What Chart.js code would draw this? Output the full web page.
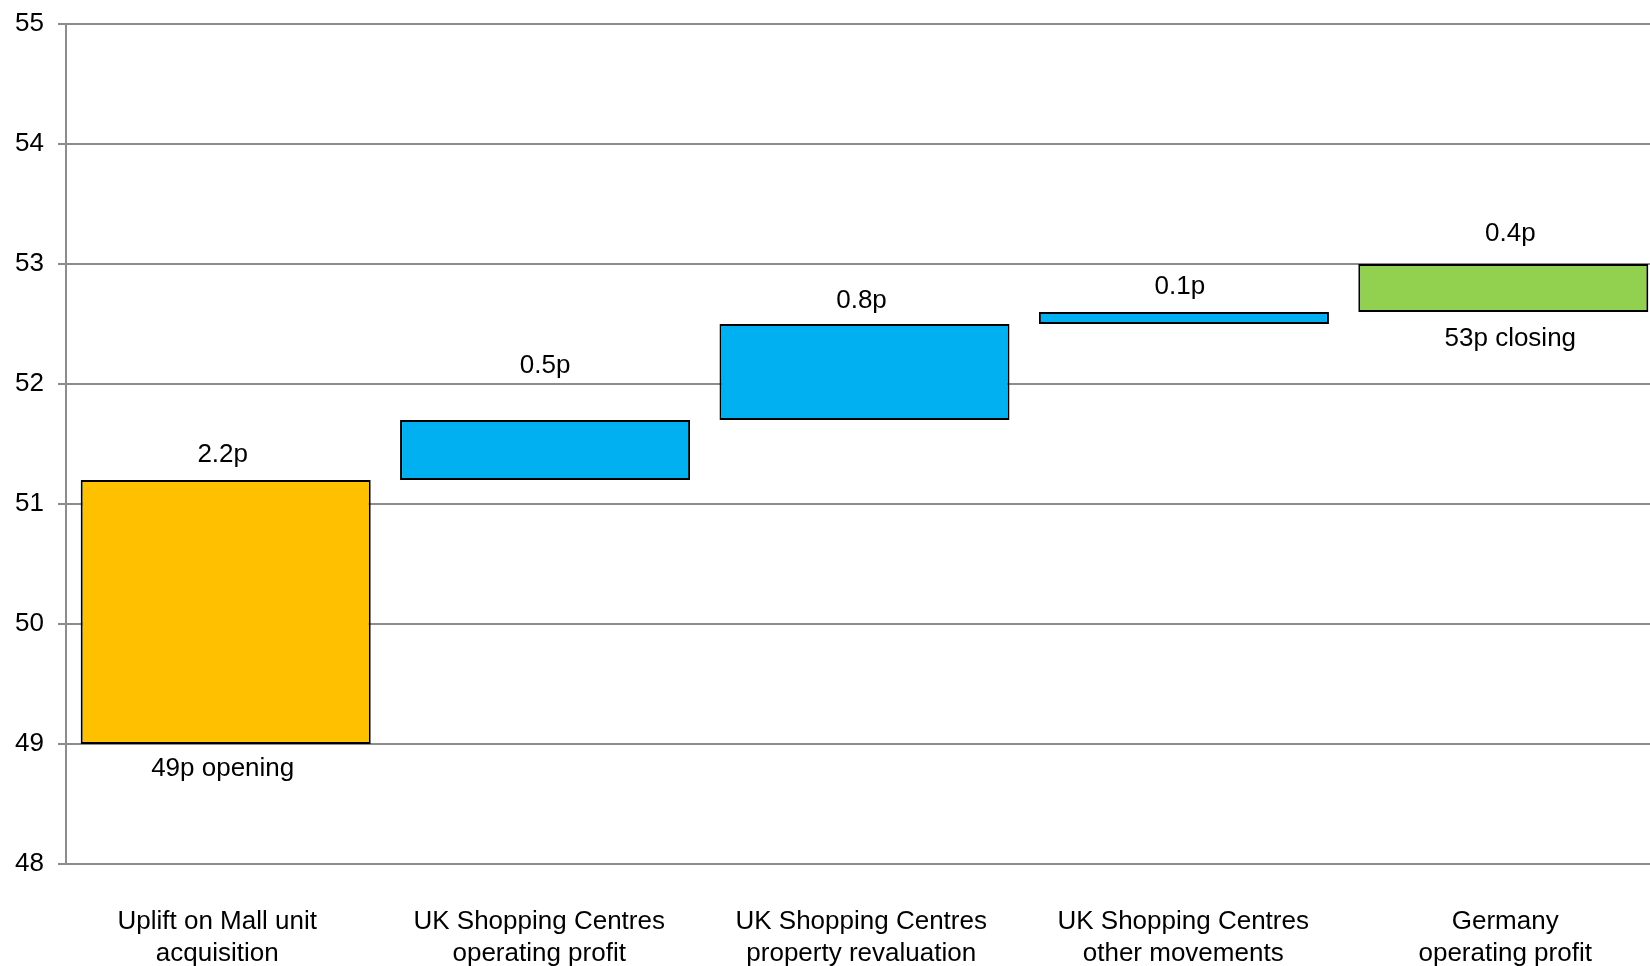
<!DOCTYPE html>
<html>
<head>
<meta charset="utf-8">
<script src="https://cdn.jsdelivr.net/npm/chart.js@4.4.0/dist/chart.umd.min.js"></script>
<style>
    html, body { margin: 0; padding: 0; background: #fff; overflow: hidden; }
    #wrap { width: 1663px; height: 966px; position: relative; }
</style>
</head>
<body>
<div id="wrap"><canvas id="bridgeChart"></canvas></div>
<script>
// ========== DATA ==========
const categories = [
    ['Uplift on Mall unit', 'acquisition'],
    ['UK Shopping Centres', 'operating profit'],
    ['UK Shopping Centres', 'property revaluation'],
    ['UK Shopping Centres', 'other movements'],
    ['Germany', 'operating profit']
];
const openingValue = 49;
const changes = [2.2, 0.5, 0.8, 0.1, 0.4];
const aboveLabels = ['2.2p', '0.5p', '0.8p', '0.1p', '0.4p'];
const belowLabels = ['49p opening', '', '', '', '53p closing'];
const barColors = ['#FFC000', '#00B0F0', '#00B0F0', '#00B0F0', '#92D050'];
const yTicks = [48, 49, 50, 51, 52, 53, 54, 55];

// build floating ranges for the bridge
const ranges = [];
let running = openingValue;
changes.forEach(c => {
    const start = running;
    running = Math.round((running + c) * 10) / 10;
    ranges.push([start, running]);
});

const FONT = '"Liberation Sans", Arial, sans-serif';
const GRID = '#8c8c8c';

// label placement (px) - the 0.5p label sits higher in the original
const aboveGap = [25, 54, 23, 25, 30];
const belowGap = [25, 0, 0, 0, 27];
const aboveShift = [-3, 0, -3, -4, 7];

// ========== BAR LABELS ==========
const barLabelPlugin = {
    id: 'barLabels',
    afterDatasetsDraw(chart) {
        const ctx = chart.ctx;
        const meta = chart.getDatasetMeta(0);
        ctx.save();
        ctx.font = '26px ' + FONT;
        ctx.fillStyle = '#000';
        ctx.textAlign = 'center';
        ctx.textBaseline = 'middle';
        meta.data.forEach((bar, i) => {
            const props = bar.getProps(['x', 'y', 'base'], true);
            const top = Math.min(props.y, props.base);
            const bottom = Math.max(props.y, props.base);
            const x = props.x + aboveShift[i];
            if (aboveLabels[i]) ctx.fillText(aboveLabels[i], x, top - aboveGap[i]);
            if (belowLabels[i]) ctx.fillText(belowLabels[i], x, bottom + belowGap[i]);
        });
        ctx.restore();
    }
};

// ========== CHART ==========
const ctx = document.getElementById('bridgeChart').getContext('2d');
new Chart(ctx, {
    type: 'bar',
    data: {
        labels: categories,
        datasets: [{
            data: ranges,
            backgroundColor: barColors,
            borderColor: '#000',
            borderWidth: 2,
            borderSkipped: false,
            categoryPercentage: 1,
            barPercentage: 0.908
        }]
    },
    options: {
        responsive: true,
        maintainAspectRatio: false,
        animation: false,
        layout: { padding: { top: 24, right: 0, left: 0, bottom: 0 } },
        plugins: {
            legend: { display: false },
            tooltip: { enabled: false }
        },
        scales: {
            x: {
                grid: { display: false, drawTicks: false },
                border: { display: false },
                ticks: {
                    color: '#000',
                    font: { family: FONT, size: 26, lineHeight: 1.22 },
                    padding: 42,
                    maxRotation: 0,
                    autoSkip: false
                },
                afterFit(scale) { scale.height = 102; },
                afterUpdate(scale) {
                    // category labels are spread a little wider than the bars
                    if (scale._origTick) return;
                    scale._origTick = scale.getPixelForTick;
                    scale.getPixelForTick = function(i) {
                        return scale._origTick.call(this, i) - 8.5 + 2.6 * i;
                    };
                    scale._labelItems = null;
                }
            },
            y: {
                min: 48,
                max: 55,
                afterBuildTicks(scale) { scale.ticks = yTicks.map(v => ({ value: v })); },
                grid: {
                    color: GRID,
                    lineWidth: 2,
                    tickLength: 8,
                    tickColor: GRID
                },
                border: { color: GRID, width: 2 },
                ticks: {
                    color: '#000',
                    font: { family: FONT, size: 26 },
                    padding: 14
                },
                afterFit(scale) {
                    scale.width = 66;
                    scale.paddingTop = 0;
                    scale.paddingBottom = 0;
                }
            }
        }
    },
    plugins: [barLabelPlugin]
});
</script>
</body>
</html>
